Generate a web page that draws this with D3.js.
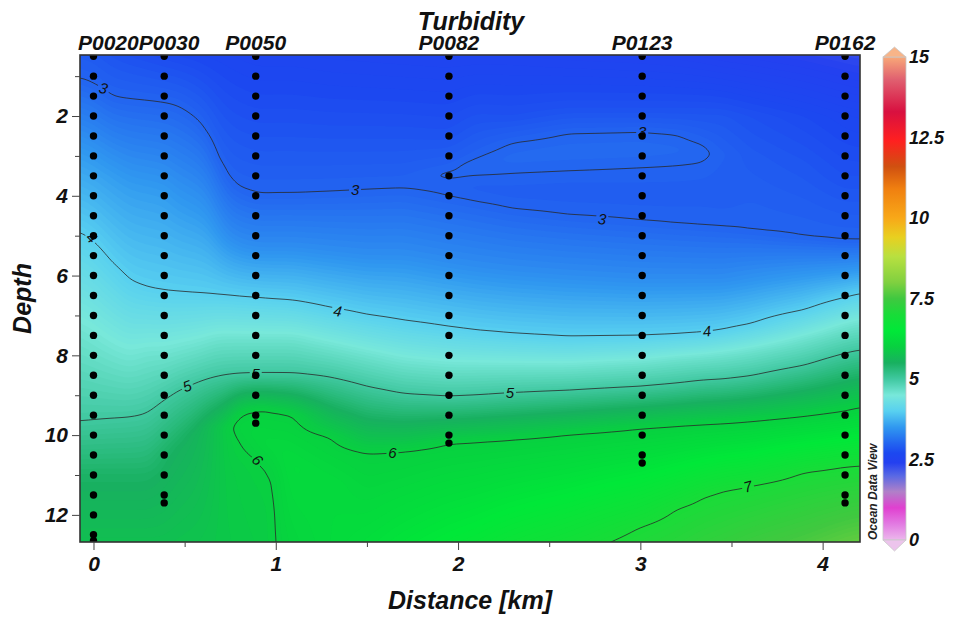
<!DOCTYPE html>
<html><head><meta charset="utf-8">
<script src="https://cdn.jsdelivr.net/npm/d3@7"></script>
<style>
html,body{margin:0;padding:0;background:#fff;}
svg{display:block;font-family:"Liberation Sans",Arial,Helvetica,sans-serif;}
</style></head><body>
<svg id="chart" width="960" height="619"></svg>
<script>
// ---------------- DATA ----------------
const chartTitle = "Turbidity";
const xTitle = "Distance [km]";
const yTitle = "Depth";
const stations = ["P0020","P0030","P0050","P0082","P0123","P0162"];
const stationDist = [0, 0.388, 0.89, 1.95, 3.01, 4.123];
const stationDepths = [
  [0.5,1,1.5,2,2.5,3,3.5,4,4.5,5,5.5,6,6.5,7,7.5,8,8.5,9,9.5,10,10.5,11,11.5,12,12.5,12.65],
  [0.5,1,1.5,2,2.5,3,3.5,4,4.5,5,5.5,6,6.5,7,7.5,8,8.5,9,9.5,10,10.5,11,11.5,11.7],
  [0.5,1,1.5,2,2.5,3,3.5,4,4.5,5,5.5,6,6.5,7,7.5,8,8.5,9,9.5,9.7],
  [0.5,1,1.5,2,2.5,3,3.5,4,4.5,5,5.5,6,6.5,7,7.5,8,8.5,9,9.5,10,10.2],
  [0.5,1,1.5,2,2.5,3,3.5,4,4.5,5,5.5,6,6.5,7,7.5,8,8.5,9,9.5,10,10.5,10.7],
  [0.5,1,1.5,2,2.5,3,3.5,4,4.5,5,5.5,6,6.5,7,7.5,8,8.5,9,9.5,10,10.5,11,11.5,11.7]
];
// turbidity profiles ([depth, value]) at section nodes (distance, km)
const fieldX = [-0.08,0,0.1,0.2,0.3,0.39,0.46,0.55,0.62,0.68,0.73,0.77,0.8,0.9,0.95,1.0,1.05,1.1,1.3,1.5,1.7,1.95,2.1,2.3,2.6,3.0,3.2,3.35,3.45,3.6,3.9,4.12,4.21];
const fieldProfiles = [
  [[0.4,2.9],[1.04,3],[3,3.55],[4.88,4],[7.5,4.6],[9.66,5],[11,5.45],[12.75,5.75]],
  [[0.4,2.88],[1.18,3],[3.2,3.55],[5.12,4],[7.5,4.55],[9.62,5],[11,5.45],[12.75,5.75]],
  [[0.4,2.82],[1.51,3],[3.5,3.55],[5.66,4],[7.8,4.55],[9.58,5],[11,5.45],[12.75,5.75]],
  [[0.4,2.78],[1.57,3],[3.8,3.55],[6.13,4],[8,4.55],[9.55,5],[11,5.45],[12.75,5.75]],
  [[0.4,2.75],[1.61,3],[3.9,3.55],[6.3,4],[8,4.6],[9.45,5],[11,5.45],[12.75,5.75]],
  [[0.4,2.72],[1.66,3],[4.0,3.55],[6.37,4],[8,4.6],[9.12,5],[10.5,5.45],[12.75,5.75]],
  [[0.4,2.7],[1.73,3],[4.1,3.5],[6.4,4],[7.9,4.6],[8.9,5],[10.3,5.5],[12.75,5.78]],
  [[0.4,2.68],[1.99,3],[4.3,3.5],[6.43,4],[7.8,4.6],[8.72,5],[10,5.55],[12.75,5.8]],
  [[0.4,2.66],[2.35,3],[4.5,3.5],[6.45,4],[7.7,4.6],[8.6,5],[9.8,5.65],[12.75,5.82]],
  [[0.4,2.65],[3.05,3],[4.8,3.45],[6.47,4],[7.6,4.6],[8.53,5],[9.8,5.8],[12.75,5.85]],
  [[0.4,2.64],[3.5,3],[5.0,3.4],[6.49,4],[7.6,4.6],[8.49,5],[9.8,5.95],[11,5.9],[12.75,5.87]],
  [[0.4,2.63],[3.7,3],[5.1,3.4],[6.5,4],[7.6,4.6],[8.47,5],[9.62,6],[9.8,6.02],[10.0,6],[11,5.92],[12.75,5.88]],
  [[0.4,2.62],[3.8,3],[5.2,3.4],[6.52,4],[7.6,4.6],[8.46,5],[9.46,6],[9.8,6.06],[10.12,6],[11,5.93],[12.75,5.9]],
  [[0.4,2.6],[3.95,3],[5.3,3.4],[6.55,4],[7.6,4.6],[8.45,5],[9.36,6],[10.0,6.12],[10.62,6],[11.5,5.95],[12.75,5.92]],
  [[0.4,2.6],[3.95,3],[5.3,3.4],[6.57,4],[7.6,4.6],[8.45,5],[9.37,6],[10.2,6.15],[10.85,6],[11.8,5.96],[12.75,5.95]],
  [[0.4,2.6],[3.94,3],[5.3,3.4],[6.59,4],[7.6,4.6],[8.45,5],[9.42,6],[10.3,6.15],[11.15,6],[12,5.985],[12.75,5.99]],
  [[0.4,2.6],[3.94,3],[5.3,3.4],[6.6,4],[7.6,4.6],[8.45,5],[9.45,6],[10.5,6.2],[12.75,6.06]],
  [[0.4,2.6],[3.94,3],[5.3,3.4],[6.62,4],[7.6,4.6],[8.45,5],[9.5,6],[10.8,6.22],[12.75,6.1]],
  [[0.4,2.58],[3.9,3],[5.4,3.4],[6.8,4],[7.8,4.6],[8.55,5],[10.05,6],[11.2,6.2],[12.75,6.2]],
  [[0.4,2.57],[3.85,3],[5.5,3.4],[6.98,4],[8.0,4.6],[8.78,5],[10.45,6],[12.75,6.3]],
  [[0.4,2.56],[3.81,3],[5.5,3.4],[7.12,4],[8.2,4.6],[8.96,5],[10.4,6],[12.75,6.42]],
  [[0.4,2.55],[2.5,2.82],[3.2,2.96],[3.48,3.02],[3.72,2.97],[4.02,3],[5.7,3.4],[7.28,4],[8.3,4.6],[9.03,5],[10.2,6],[12.75,6.55]],
  [[0.4,2.55],[2.3,2.86],[3.05,3],[3.28,3.05],[3.47,3],[3.8,2.95],[4.15,3],[5.8,3.4],[7.37,4],[8.3,4.6],[9.0,5],[10.16,6],[12.75,6.62]],
  [[0.4,2.55],[2.0,2.8],[2.66,3],[3.05,3.06],[3.43,3],[3.9,2.94],[4.33,3],[5.9,3.4],[7.45,4],[8.3,4.6],[8.94,5],[10.1,6],[12.75,6.75]],
  [[0.4,2.52],[1.8,2.8],[2.43,3],[2.9,3.07],[3.37,3],[3.9,2.93],[4.48,3],[6.0,3.4],[7.53,4],[8.3,4.6],[8.88,5],[9.98,6],[12.75,6.9]],
  [[0.4,2.5],[1.8,2.8],[2.39,3],[2.83,3.07],[3.29,3],[3.95,2.93],[4.62,3],[6.1,3.4],[7.51,4],[8.2,4.6],[8.78,5],[9.83,6],[12.31,7],[12.75,7.1]],
  [[0.4,2.48],[1.8,2.8],[2.46,3],[2.85,3.05],[3.24,3],[3.95,2.93],[4.7,3],[6.1,3.4],[7.47,4],[8.1,4.6],[8.7,5],[9.77,6],[11.85,7],[12.75,7.2]],
  [[0.4,2.45],[2.0,2.85],[2.72,3],[2.93,3.02],[3.16,3],[3.9,2.93],[4.75,3],[6.1,3.4],[7.42,4],[8.05,4.6],[8.62,5],[9.73,6],[11.55,7],[12.75,7.3]],
  [[0.4,2.42],[2.0,2.85],[2.95,2.97],[3.9,2.92],[4.78,3],[6.1,3.4],[7.36,4],[8.0,4.6],[8.6,5],[9.71,6],[11.4,7],[12.75,7.35]],
  [[0.4,2.4],[2.0,2.8],[3.0,2.9],[4.86,3],[6.1,3.45],[7.22,4],[7.9,4.6],[8.52,5],[9.66,6],[11.28,7],[12.75,7.45]],
  [[0.4,2.35],[2.0,2.72],[3.2,2.85],[5.03,3],[6.0,3.5],[6.86,4],[7.6,4.6],[8.25,5],[9.53,6],[10.93,7],[12.75,7.6]],
  [[0.4,2.3],[2.0,2.65],[3.5,2.8],[5.12,3],[5.9,3.5],[6.55,4],[7.3,4.6],[7.95,5],[9.4,6],[10.79,7],[12.75,7.75]],
  [[0.4,2.28],[2.0,2.63],[3.5,2.8],[5.125,3],[5.85,3.5],[6.44,4],[7.2,4.6],[7.86,5],[9.3,6],[10.76,7],[12.75,7.8]]
];
const contourLevels = [3,4,5,6,7];
const contourLabels = [
  {level:3, dist:0.055, depth:1.3, rot:15},
  {level:3, dist:1.435, depth:3.85, rot:0},
  {level:3, dist:2.79, depth:4.58, rot:5},
  {level:3, dist:3.01, depth:2.38, rot:0},
  {level:4, dist:-0.01, depth:5.05, rot:45},
  {level:4, dist:1.34, depth:6.89, rot:8},
  {level:4, dist:3.365, depth:7.39, rot:-5},
  {level:5, dist:0.513, depth:8.77, rot:-20},
  {level:5, dist:0.89, depth:8.45, rot:0},
  {level:5, dist:2.285, depth:8.94, rot:0},
  {level:6, dist:0.9, depth:10.62, rot:45},
  {level:6, dist:1.64, depth:10.45, rot:0},
  {level:7, dist:3.59, depth:11.29, rot:-15}
];
const xTicks = [0,1,2,3,4];
const xMinorTicks = [0.5,1.5,2.5,3.5];
const yTicks = [2,4,6,8,10,12];
const yMinorTicks = [1,3,5,7,9,11];
const colorbarTicks = [0,2.5,5,7.5,10,12.5,15];
const colorbarLabels = ["0","2.5","5","7.5","10","12.5","15"];
const paletteStops = [0,0.5,1,1.5,2,2.4,2.7,3,3.5,4,4.5,5,5.5,6,6.5,7,7.5,8,8.8,9.4,10,10.9,11.6,12.4,13.3,14.3,15];
const paletteColors = ["#ecb8ec","#e27ae2","#e040d0","#b080c8","#5868e4","#2440f0","#1c48f0","#2264f0","#3098f0","#58d0f0","#78e8da","#40c8a0","#18b060","#08d040","#00e838","#18dc38","#40c840","#80d040","#b8e040","#e8d020","#f8a818","#f08010","#d05010","#ff2020","#d81040","#e06070","#f8a878"];
const watermark = "Ocean Data View";

// ---------------- CHART ----------------
const svg = d3.select("#chart");
const plot = {x0:80, x1:860, y0:55, y1:542};
const x = d3.scaleLinear().domain([-0.074, 4.205]).range([plot.x0, plot.x1]);
const y = d3.scaleLinear().domain([0.47, 12.68]).range([plot.y0, plot.y1]);
const color = d3.scaleLinear().domain(paletteStops).range(paletteColors).interpolate(d3.interpolateRgb).clamp(true);
const boldItalic = sel => sel.attr("font-weight","bold").attr("font-style","italic").attr("fill","#111");

function profileValue(p, z){
  if (z <= p[0][0]) return p[0][1];
  for (let k = 1; k < p.length; k++) {
    if (z <= p[k][0]) {
      const z0 = p[k-1][0], v0 = p[k-1][1], z1 = p[k][0], v1 = p[k][1];
      return v0 + (v1 - v0) * (z - z0) / (z1 - z0);
    }
  }
  return p[p.length-1][1];
}
function blur(a, w, h, rx, ry){
  const tmp = new Float64Array(w*h), out = new Float64Array(w*h);
  for (let j = 0; j < h; j++) for (let i = 0; i < w; i++) {
    let s = 0, n = 0;
    for (let k = -rx; k <= rx; k++) { const ii = Math.min(w-1, Math.max(0, i+k)); s += a[j*w+ii]; n++; }
    tmp[j*w+i] = s/n;
  }
  for (let j = 0; j < h; j++) for (let i = 0; i < w; i++) {
    let s = 0, n = 0;
    for (let k = -ry; k <= ry; k++) { const jj = Math.min(h-1, Math.max(0, j+k)); s += tmp[jj*w+i]; n++; }
    out[j*w+i] = s/n;
  }
  return out;
}

// gridding
const cell = 2, gx0 = 76, gy0 = 51, nx = 394, ny = 248;
const rowDepth = d3.range(ny).map(j => y.invert(gy0 + (j + 0.5) * cell));
const nodeVals = fieldProfiles.map(p => rowDepth.map(z => profileValue(p, z)));
let grid = new Float64Array(nx*ny);
for (let i = 0; i < nx; i++) {
  const d = Math.max(fieldX[0], Math.min(fieldX[fieldX.length-1], x.invert(gx0 + (i + 0.5) * cell)));
  let k = d3.bisectRight(fieldX, d) - 1;
  k = Math.max(0, Math.min(fieldX.length - 2, k));
  const t = (d - fieldX[k]) / (fieldX[k+1] - fieldX[k]);
  for (let j = 0; j < ny; j++) grid[j*nx+i] = nodeVals[k][j] * (1 - t) + nodeVals[k+1][j] * t;
}
grid = blur(grid, nx, ny, 3, 1);
grid = blur(grid, nx, ny, 3, 1);
const gridArr = Array.from(grid);

const defs = svg.append("defs");
defs.append("clipPath").attr("id","plotclip").append("rect")
  .attr("x", plot.x0).attr("y", plot.y0).attr("width", plot.x1 - plot.x0).attr("height", plot.y1 - plot.y0);

const gp = d3.geoPath(d3.geoTransform({point(px, py){ this.stream.point(gx0 + px * cell, gy0 + py * cell); }}));

// colour field
const gField = svg.append("g").attr("clip-path","url(#plotclip)");
const minV = d3.min(gridArr), maxV = d3.max(gridArr);
gField.append("rect").attr("x", plot.x0).attr("y", plot.y0)
  .attr("width", plot.x1 - plot.x0).attr("height", plot.y1 - plot.y0).attr("fill", color(minV));
const bandStep = 0.04;
const bandThresholds = d3.range(Math.floor(minV/bandStep)*bandStep + bandStep, maxV, bandStep).map(v => +v.toFixed(3));
const bands = d3.contours().size([nx, ny]).thresholds(bandThresholds)(gridArr);
gField.selectAll("path.band").data(bands.filter(b => b.coordinates.length)).join("path")
  .attr("class","band").attr("d", gp).attr("fill", b => color(b.value + bandStep/2)).attr("stroke","none");

// contour lines with gaps at labels
const mask = defs.append("mask").attr("id","lblmask").attr("maskUnits","userSpaceOnUse")
  .attr("x",0).attr("y",0).attr("width",960).attr("height",619);
mask.append("rect").attr("x",0).attr("y",0).attr("width",960).attr("height",619).attr("fill","#fff");
contourLabels.forEach(l => {
  mask.append("rect").attr("x", x(l.dist) - 6).attr("y", y(l.depth) - 8).attr("width", 12).attr("height", 16)
    .attr("fill","#000").attr("transform", `rotate(${l.rot},${x(l.dist)},${y(l.depth)})`);
});
const lines = d3.contours().size([nx, ny]).thresholds(contourLevels)(gridArr);
svg.append("g").attr("clip-path","url(#plotclip)").append("g").attr("mask","url(#lblmask)")
  .selectAll("path").data(lines).join("path")
  .attr("d", gp).attr("fill","none").attr("stroke","#2a2a2a").attr("stroke-width",0.8);
svg.append("g").attr("clip-path","url(#plotclip)").selectAll("text").data(contourLabels).join("text")
  .attr("transform", l => `translate(${x(l.dist)},${y(l.depth)}) rotate(${l.rot})`)
  .attr("text-anchor","middle").attr("dy","0.36em")
  .attr("font-size", 15).attr("font-style","italic").attr("fill","#111")
  .text(l => l.level);

// station sample dots
const dots = [];
stations.forEach((s, i) => stationDepths[i].forEach(z => dots.push({d: stationDist[i], z})));
svg.append("g").attr("clip-path","url(#plotclip)").selectAll("circle").data(dots).join("circle")
  .attr("cx", p => x(p.d)).attr("cy", p => y(p.z)).attr("r", 3.7).attr("fill","#000");

// frame
svg.append("rect").attr("x", plot.x0).attr("y", plot.y0).attr("width", plot.x1 - plot.x0).attr("height", plot.y1 - plot.y0)
  .attr("fill","none").attr("stroke","#333").attr("stroke-width",1.6);

// axes
const styleAxis = g => { g.select(".domain").remove(); g.selectAll(".tick line").attr("stroke","#444").attr("stroke-width",1); };
svg.append("g").attr("transform",`translate(${plot.x0},0)`)
  .call(d3.axisLeft(y).tickValues(yMinorTicks).tickSize(5).tickFormat(""))
  .call(styleAxis);
const yAx = svg.append("g").attr("transform",`translate(${plot.x0},0)`)
  .call(d3.axisLeft(y).tickValues(yTicks).tickSize(8).tickPadding(4).tickFormat(d3.format("d")))
  .call(styleAxis);
yAx.selectAll("text").call(boldItalic).attr("font-size",21).attr("font-family",null);
svg.append("g").attr("transform",`translate(0,${plot.y1})`)
  .call(d3.axisBottom(x).tickValues(xMinorTicks).tickSize(5).tickFormat(""))
  .call(styleAxis);
const xAx = svg.append("g").attr("transform",`translate(0,${plot.y1})`)
  .call(d3.axisBottom(x).tickValues(xTicks).tickSize(8).tickPadding(6).tickFormat(d3.format("d")))
  .call(styleAxis);
xAx.selectAll("text").call(boldItalic).attr("font-size",21).attr("font-family",null);

// titles
svg.append("text").attr("x", 471).attr("y", 30).attr("text-anchor","middle").attr("font-size",25).call(boldItalic).text(chartTitle);
svg.append("text").attr("x", 470).attr("y", 609).attr("text-anchor","middle").attr("font-size",25).call(boldItalic).text(xTitle);
svg.append("text").attr("transform",`translate(31,${(plot.y0+plot.y1)/2}) rotate(-90)`).attr("text-anchor","middle")
  .attr("font-size",25).call(boldItalic).text(yTitle);

// station labels (pushed right to avoid overlap, clamped at plot's left edge)
const stG = svg.append("g");
let prevRight = -Infinity;
stations.forEach((s, i) => {
  const t = stG.append("text").attr("font-size",21).call(boldItalic).attr("y", 50).text(s);
  const w = t.node().getComputedTextLength();
  let left = x(stationDist[i]) - w/2;
  left = Math.max(left, plot.x0 - 2, prevRight);
  t.attr("x", left);
  prevRight = left + w;
});

// colour bar
const cb = d3.scaleLinear().domain([0,15]).range([540,57]);
const cbx = 883, cbw = 23;
const grad = defs.append("linearGradient").attr("id","cbgrad").attr("x1",0).attr("y1",1).attr("x2",0).attr("y2",0);
paletteStops.forEach((v, i) => grad.append("stop").attr("offset", v/15).attr("stop-color", paletteColors[i]));
svg.append("rect").attr("x", cbx).attr("y", cb(15)).attr("width", cbw).attr("height", cb(0) - cb(15))
  .attr("fill","url(#cbgrad)").attr("stroke","#c8c8c8").attr("stroke-width",0.8);
svg.append("path").attr("d", `M${cbx},${cb(15)}L${cbx+cbw/2},${cb(15)-10}L${cbx+cbw},${cb(15)}Z`)
  .attr("fill","#f8b488").attr("stroke","#c8c8c8").attr("stroke-width",0.8);
svg.append("path").attr("d", `M${cbx},${cb(0)}L${cbx+cbw/2},${cb(0)+11}L${cbx+cbw},${cb(0)}Z`)
  .attr("fill","#ecc4ec").attr("stroke","#c8c8c8").attr("stroke-width",0.8);
svg.append("g").selectAll("text").data(colorbarTicks).join("text")
  .attr("x", 909).attr("y", v => cb(v)).attr("dy","0.36em").attr("font-size",18).call(boldItalic)
  .text((v, i) => colorbarLabels[i]);
svg.append("text").attr("transform","translate(877,540) rotate(-90)").attr("font-size",12)
  .attr("font-weight","bold").attr("font-style","italic").attr("fill","#222").text(watermark);
</script>
</body></html>
